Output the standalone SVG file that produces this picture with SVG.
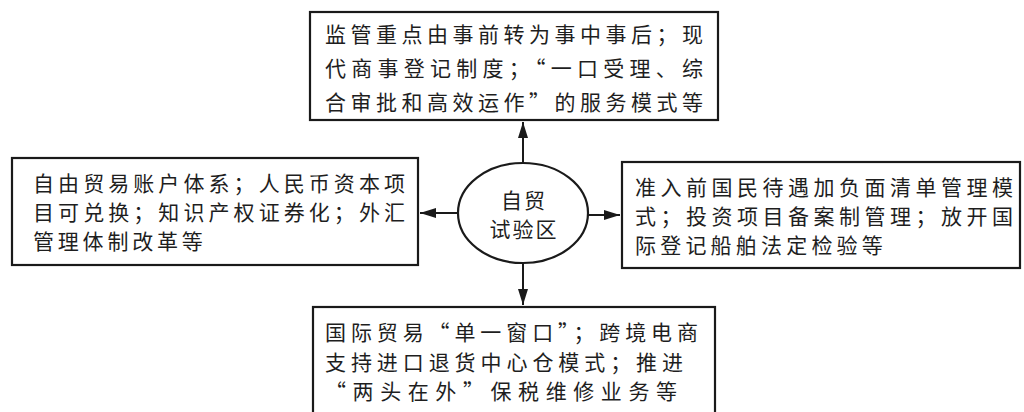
<svg xmlns="http://www.w3.org/2000/svg" width="1024" height="412" viewBox="0 0 1024 412">
<style>
.box{fill:#fff;stroke:#1a1a1a;stroke-width:2.2}
.t{font-family:"Noto Sans CJK SC","Noto Sans CJK JP",sans-serif;font-size:21px;fill:#1e1e1e}
.c{stroke:#1a1a1a;stroke-width:2;fill:none}
</style>
<defs>
<marker id="ah" viewBox="0 0 16 10" refX="16" refY="5" markerWidth="16" markerHeight="10" markerUnits="userSpaceOnUse" orient="auto">
<path d="M0,0 L16,5 L0,10 Z" fill="#1a1a1a"/>
</marker>
</defs>
<rect width="1024" height="412" fill="#fff"/>
<g id="connectors">
<line class="c" x1="523" y1="165" x2="523" y2="122" marker-end="url(#ah)"/>
<line class="c" x1="457" y1="213" x2="420" y2="213" marker-end="url(#ah)"/>
<line class="c" x1="586" y1="215" x2="620" y2="215" marker-end="url(#ah)"/>
<line class="c" x1="523" y1="263" x2="523" y2="305" marker-end="url(#ah)"/>
</g>
<g id="node-top">
<rect class="box" x="310" y="12" width="408" height="108"/>
<text class="t" x="325" y="42" textLength="378" lengthAdjust="spacing">监管重点由事前转为事中事后；现</text>
<text class="t" x="325" y="76" textLength="378" lengthAdjust="spacing">代商事登记制度；“一口受理、综</text>
<text class="t" x="325" y="110" textLength="378" lengthAdjust="spacing">合审批和高效运作”的服务模式等</text>
</g>
<g id="node-left">
<rect class="box" x="12" y="158" width="406" height="107"/>
<text class="t" x="33" y="191" textLength="372" lengthAdjust="spacing">自由贸易账户体系；人民币资本项</text>
<text class="t" x="33" y="220" textLength="372" lengthAdjust="spacing">目可兑换；知识产权证券化；外汇</text>
<text class="t" x="33" y="249" letter-spacing="3.8">管理体制改革等</text>
</g>
<g id="node-center">
<ellipse cx="523" cy="213" rx="65" ry="50" fill="#fff" stroke="#1a1a1a" stroke-width="2.2"/>
<text class="t" x="524" y="208" text-anchor="middle" letter-spacing="2">自贸</text>
<text class="t" x="524" y="237" text-anchor="middle" letter-spacing="2">试验区</text>
</g>
<g id="node-right">
<rect class="box" x="622" y="162" width="398" height="106"/>
<text class="t" x="635" y="195" textLength="378" lengthAdjust="spacing">准入前国民待遇加负面清单管理模</text>
<text class="t" x="635" y="224" textLength="378" lengthAdjust="spacing">式；投资项目备案制管理；放开国</text>
<text class="t" x="635" y="253" letter-spacing="4.2">际登记船舶法定检验等</text>
</g>
<g id="node-bottom">
<rect class="box" x="313" y="307" width="402" height="120"/>
<text class="t" x="325" y="340" textLength="373" lengthAdjust="spacing">国际贸易“单一窗口”；跨境电商</text>
<text class="t" x="325" y="370" textLength="358" lengthAdjust="spacing">支持进口退货中心仓模式；推进</text>
<text class="t" x="325" y="399" textLength="352" lengthAdjust="spacing">“两头在外”保税维修业务等</text>
</g>
</svg>
